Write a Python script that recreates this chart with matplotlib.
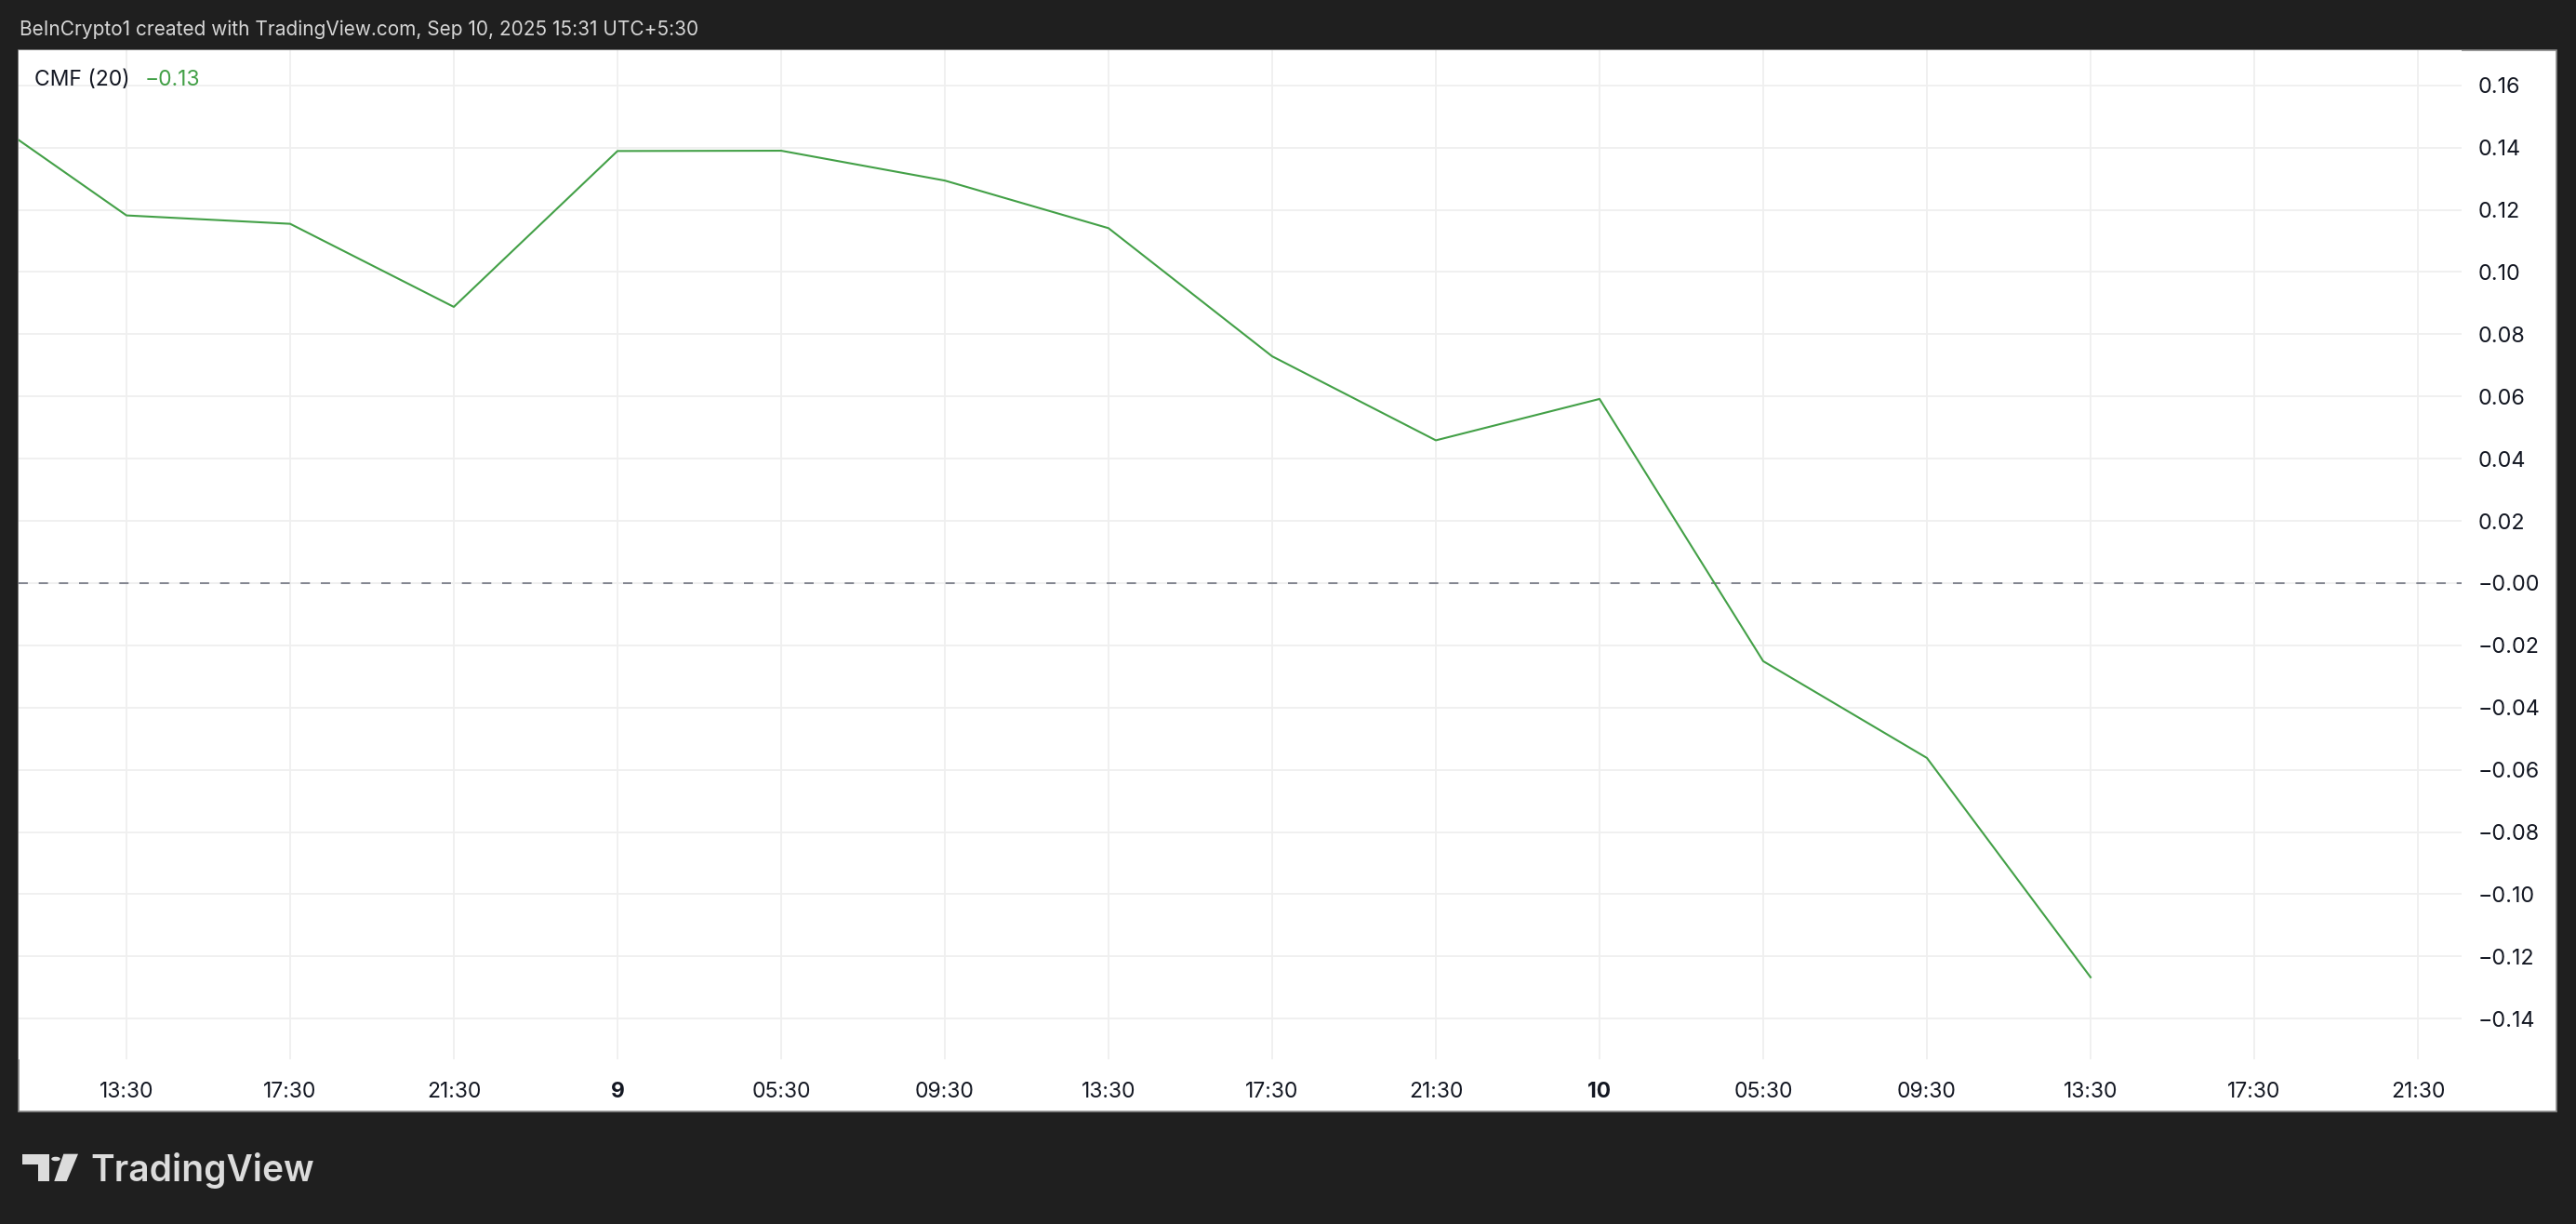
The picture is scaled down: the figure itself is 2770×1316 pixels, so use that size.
import matplotlib
matplotlib.use("Agg")
import matplotlib.pyplot as plt
from matplotlib.patches import Rectangle, Polygon, Circle

# CMF (20) readings, 4h bars starting Sep 8 09:30 (UTC+5:30)
bar_index = [0, 1, 2, 3, 4, 5, 6, 7, 8, 9, 10, 11, 12, 13]
cmf_values = [0.155, 0.1182, 0.1155, 0.0888, 0.1389, 0.1390, 0.1294,
              0.1141, 0.0729, 0.0459, 0.0592, -0.0251, -0.0562, -0.1267]

x_tick_pos = [1, 2, 3, 4, 5, 6, 7, 8, 9, 10, 11, 12, 13, 14, 15]
x_tick_labels = ["13:30", "17:30", "21:30", "9", "05:30", "09:30", "13:30",
                 "17:30", "21:30", "10", "05:30", "09:30", "13:30", "17:30", "21:30"]
day_labels = ["9", "10"]

y_ticks = [0.16, 0.14, 0.12, 0.10, 0.08, 0.06, 0.04, 0.02, 0.0,
           -0.02, -0.04, -0.06, -0.08, -0.10, -0.12, -0.14]
y_tick_labels = ["0.16", "0.14", "0.12", "0.10", "0.08", "0.06", "0.04", "0.02", "\u22120.00",
                 "\u22120.02", "\u22120.04", "\u22120.06", "\u22120.08", "\u22120.10", "\u22120.12", "\u22120.14"]

header = "BeInCrypto1 created with TradingView.com, Sep 10, 2025 15:31 UTC+5:30"

W, H = 2770, 1316
BG = "#1f1f1f"
GREEN = "#43a047"
TXT = "#131722"

plt.rcParams['font.family'] = ['Inter', 'DejaVu Sans']


def fx(x):
    return x / W


def fy(y):
    return 1 - y / H


fig = plt.figure(figsize=(W / 100, H / 100), dpi=100, facecolor=BG)

# white chart panel
panel = Rectangle((fx(20), fy(1195)), fx(2749) - fx(20), fy(54) - fy(1195),
                  transform=fig.transFigure, facecolor="white", edgecolor="#8a8a8a",
                  lw=1.2, zorder=-1)
fig.patches.append(panel)

ax = fig.add_axes([fx(20), fy(1139), fx(2647) - fx(20), fy(54) - fy(1139)])
ax.set_facecolor("white")
ax.plot(bar_index, cmf_values, color=GREEN, lw=1.5, zorder=3)
ax.axhline(0, color="#787b86", lw=1.3, ls=(0, (5.5, 6.5)), zorder=2)

ax.set_xlim(0.341, 15.267)
ax.set_ylim(-0.1531, 0.1713)
ax.set_xticks(x_tick_pos)
ax.set_xticklabels(x_tick_labels)
ax.set_yticks(y_ticks)
ax.set_yticklabels(y_tick_labels)
ax.yaxis.tick_right()
ax.tick_params(axis="x", length=0, pad=17, labelsize=16.5, labelcolor=TXT)
ax.tick_params(axis="y", length=0, pad=13, labelsize=16.8, labelcolor=TXT)
for lbl in ax.get_xticklabels():
    if lbl.get_text() in day_labels:
        lbl.set_fontweight("bold")
ax.grid(True, color="#efefef", lw=1.3, zorder=0)
for s in ax.spines.values():
    s.set_visible(False)

# header and legend
fig.text(fx(21), fy(32), header, color="#d6d6d6", fontsize=15, va="center", ha="left")
fig.text(fx(37), fy(86), "CMF (20)", color=TXT, fontsize=16.5, va="center", ha="left")
last_val = f"{cmf_values[-1]:.2f}".replace("-", "\u2212")
fig.text(fx(156), fy(86), last_val, color=GREEN, fontsize=16.5, va="center", ha="left")

# TradingView logo
logo_c = "#dcdcdc"
t_shape = [(24, 1240.7), (52.7, 1240.7), (52.7, 1270), (40.7, 1270),
           (40.7, 1251.7), (24, 1251.7)]
fig.patches.append(Polygon([(fx(x), fy(y)) for x, y in t_shape], closed=True,
                           transform=fig.transFigure, facecolor=logo_c, edgecolor="none"))
slant = [(68.3, 1240.7), (84, 1240.7), (71.7, 1270), (58.3, 1270)]
fig.patches.append(Polygon([(fx(x), fy(y)) for x, y in slant], closed=True,
                           transform=fig.transFigure, facecolor=logo_c, edgecolor="none"))
fig.patches.append(Circle((fx(60), fy(1246)), 4.8 / W, transform=fig.transFigure,
                          facecolor=logo_c, edgecolor="none"))
fig.text(fx(97), fy(1270), "TradingView", color=logo_c, fontsize=28, fontweight="semibold",
         va="baseline", ha="left")

fig.savefig("out.png", dpi=100, facecolor=BG)
